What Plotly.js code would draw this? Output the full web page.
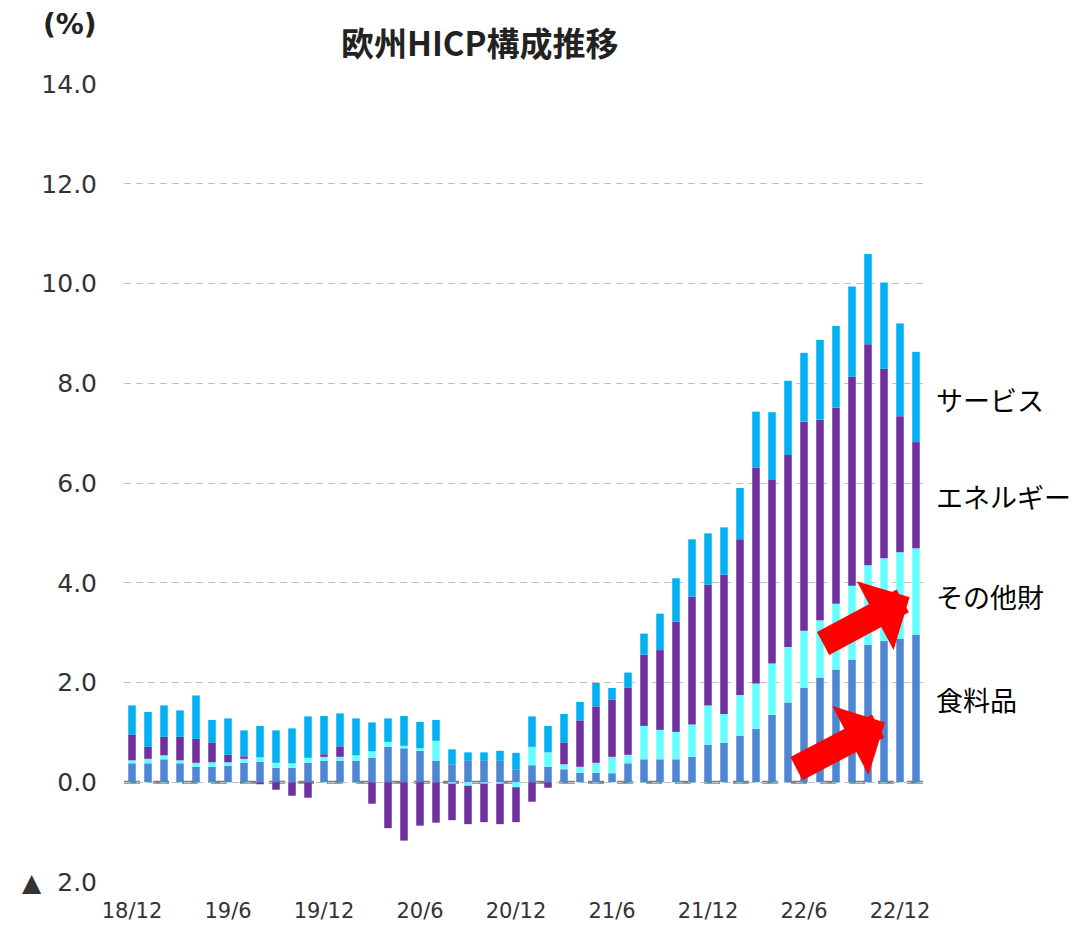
<!DOCTYPE html>
<html>
<head>
<meta charset="utf-8">
<script src="https://cdn.plot.ly/plotly-3.0.1.min.js"></script>
<style>html,body{margin:0;padding:0;background:#fff;}#chart{width:1083px;height:930px;}</style>
</head>
<body>
<div id="chart"></div>
<script>
var months = ["18/12","19/1","19/2","19/3","19/4","19/5","19/6","19/7","19/8","19/9",
  "19/10","19/11","19/12","20/1","20/2","20/3","20/4","20/5","20/6","20/7",
  "20/8","20/9","20/10","20/11","20/12","21/1","21/2","21/3","21/4","21/5",
  "21/6","21/7","21/8","21/9","21/10","21/11","21/12","22/1","22/2","22/3",
  "22/4","22/5","22/6","22/7","22/8","22/9","22/10","22/11","22/12","23/1"];

var food = [0.38,0.38,0.46,0.38,0.31,0.31,0.33,0.39,0.41,0.29,
  0.29,0.39,0.43,0.43,0.43,0.49,0.71,0.68,0.63,0.43,
  0.36,0.43,0.43,0.43,0.26,0.34,0.31,0.26,0.19,0.19,
  0.18,0.38,0.46,0.46,0.46,0.51,0.75,0.79,0.93,1.07,
  1.35,1.60,1.89,2.10,2.26,2.46,2.75,2.83,2.88,2.96];

var otherGoods = [0.06,0.09,0.08,0.06,0.08,0.09,0.07,0.08,0.09,0.10,
  0.09,0.10,0.08,0.08,0.11,0.13,0.10,0.05,0.05,0.40,
  -0.03,-0.07,-0.03,-0.03,-0.10,0.37,0.29,0.10,0.12,0.20,
  0.33,0.17,0.67,0.59,0.55,0.65,0.79,0.58,0.82,0.91,
  1.03,1.11,1.15,1.15,1.32,1.48,1.60,1.66,1.73,1.73];

var energy = [0.52,0.24,0.37,0.47,0.48,0.40,0.15,0.05,-0.04,-0.15,
  -0.27,-0.31,0.05,0.21,0.00,-0.43,-0.92,-1.17,-0.87,-0.81,
  -0.73,-0.77,-0.77,-0.81,-0.70,-0.39,-0.11,0.44,0.93,1.13,
  1.15,1.35,1.43,1.60,2.21,2.56,2.42,2.79,3.12,4.33,
  3.68,3.85,4.19,4.02,3.93,4.19,4.43,3.80,2.73,2.13];

var services = [0.58,0.70,0.63,0.53,0.87,0.45,0.73,0.52,0.63,0.65,
  0.70,0.83,0.77,0.66,0.74,0.58,0.47,0.60,0.53,0.42,
  0.30,0.17,0.17,0.20,0.33,0.61,0.53,0.57,0.37,0.47,
  0.23,0.30,0.42,0.73,0.87,1.15,1.03,0.95,1.03,1.12,
  1.36,1.49,1.38,1.60,1.64,1.81,1.81,1.73,1.86,1.81];

var seriesNames = ["食料品","その他財","エネルギー","サービス"];
var xTickVals = ["18/12","19/6","19/12","20/6","20/12","21/6","21/12","22/6","22/12"];
var yTickVals = [-2,0,2,4,6,8,10,12,14];
var yTickText = ["▲\u00a0\u00a02.0","0.0","2.0","4.0","6.0","8.0","10.0","12.0","14.0"];

var colors = ["#4F86D4","#66FFFF","#7030A0","#00B0F0"];
var seriesData = [food, otherGoods, energy, services];

var traces = seriesData.map(function(vals, i){
  return {type:"bar", x:months, y:vals, name:seriesNames[i],
    marker:{color:colors[i], line:{width:0}}, hoverinfo:"x+y+name"};
});

var labelFont = {family:"Noto Sans CJK JP", size:27, color:"#000"};
var layout = {
  width:1083, height:930,
  margin:{l:124, r:159, t:84, b:48},
  paper_bgcolor:"#fff", plot_bgcolor:"#fff",
  barmode:"relative", bargap:0.53,
  showlegend:false,
  title:{text:"欧州HICP構成推移", x:0.443, xanchor:"center", y:0.952, yanchor:"middle",
    font:{family:"Noto Sans CJK JP", size:33, weight:700, color:"#222"}},
  xaxis:{type:"category", range:[-0.5,49.5], tickmode:"array", tickvals:xTickVals, ticktext:xTickVals,
    showgrid:false, zeroline:false, showline:false, ticks:"", ticklabelstandoff:14,
    tickfont:{family:"DejaVu Sans", size:21, color:"#333"}},
  yaxis:{range:[-2,14], tickmode:"array", tickvals:yTickVals, ticktext:yTickText,
    showgrid:true, gridcolor:"#C0C0C0", gridwidth:1, griddash:"7px,5px",
    zeroline:false, showline:false, ticks:"", ticklabelstandoff:26,
    tickfont:{family:"DejaVu Sans", size:25, color:"#333"}},
  shapes:[{type:"line", xref:"paper", x0:0, x1:1, yref:"y", y0:0, y1:0, layer:"below",
    line:{color:"#808080", width:3, dash:"16px,13px"}}],
  annotations:[
    {xref:"paper", yref:"paper", x:-0.0675, y:1.074, text:"(%)", showarrow:false,
     xanchor:"center", yanchor:"middle", font:{family:"DejaVu Sans", size:28, weight:700, color:"#222"}},
    {xref:"paper", yref:"y", x:1.013, y:7.67, text:"サービス", showarrow:false, xanchor:"left", yanchor:"middle", font:labelFont},
    {xref:"paper", yref:"y", x:1.013, y:5.73, text:"エネルギー", showarrow:false, xanchor:"left", yanchor:"middle", font:labelFont},
    {xref:"paper", yref:"y", x:1.013, y:3.72, text:"その他財", showarrow:false, xanchor:"left", yanchor:"middle", font:labelFont},
    {xref:"paper", yref:"y", x:1.013, y:1.66, text:"食料品", showarrow:false, xanchor:"left", yanchor:"middle", font:labelFont},
    {xref:"x", yref:"y", x:48.6, y:3.71, ax:-88, ay:47, text:"", showarrow:true,
     arrowhead:1, arrowwidth:26, arrowsize:0.5, arrowcolor:"#FF0000", standoff:0},
    {xref:"x", yref:"y", x:47.06, y:1.20, ax:-90, ay:47, text:"", showarrow:true,
     arrowhead:1, arrowwidth:26, arrowsize:0.5, arrowcolor:"#FF0000", standoff:0}
  ]
};

Plotly.newPlot("chart", traces, layout, {displayModeBar:false, staticPlot:true});
</script>
</body>
</html>
